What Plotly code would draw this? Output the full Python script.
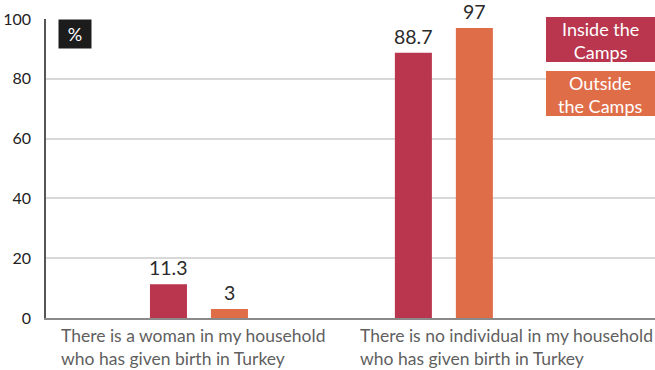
import plotly.graph_objects as go

categories = ["There is a woman in my household<br>who has given birth in Turkey",
              "There is no individual in my household<br>who has given birth in Turkey"]
cat_keys = ["woman", "none"]
series_names = ["Inside the<br>Camps", "Outside<br>the Camps"]
inside_vals = [11.3, 88.7]
outside_vals = [3, 97]
y_ticks = [0, 20, 40, 60, 80, 100]

colors = ["#B9364E", "#DF6D48"]
FONT = "Lato"

fig = go.Figure()
all_vals = [inside_vals, outside_vals]
for i, vals in enumerate(all_vals):
    fig.add_trace(go.Bar(x=cat_keys, y=vals, marker=dict(color=colors[i], line=dict(width=0)),
                         name=series_names[i], showlegend=False, cliponaxis=False))

annotations = []
shapes = []
shifts = [-30.5, 30.5]
for i, vals in enumerate(all_vals):
    for k, v in zip(cat_keys, vals):
        annotations.append(dict(x=k, y=v, xref="x", yref="y", text=f"{v:g}", showarrow=False,
                                xshift=shifts[i], yanchor="bottom", yshift=4, borderpad=0,
                                font=dict(family=FONT, size=19.5, color="#2b2b2b")))

# category labels (left aligned)
cat_x = [0.0220, 0.5125]
for cx, lab in zip(cat_x, categories):
    annotations.append(dict(x=cx, y=0, xref="paper", yref="paper", text=lab, showarrow=False,
                            xanchor="left", yanchor="top", align="left", yshift=-5,
                            font=dict(family=FONT, size=17.5, color="#5f5f5f")))

# % box
annotations.append(dict(x=0.0197, y=1, xref="paper", yref="paper", text="%", showarrow=False,
                        xanchor="left", yanchor="top", width=32, height=28, borderpad=0,
                        bgcolor="#1c1c1c", font=dict(family=FONT, size=18, color="white")))

# legend boxes (shape + centred two-line label)
box_y = [(0.856, 1.0067), (0.6756, 0.826)]
for i in range(len(series_names)):
    y0, y1 = box_y[i]
    shapes.append(dict(type="rect", xref="paper", yref="paper", x0=0.821, x1=1.0,
                       y0=y0, y1=y1, fillcolor=colors[i], line=dict(width=0)))
    annotations.append(dict(x=0.9105, y=(y0 + y1) / 2 - 0.004, xref="paper", yref="paper",
                            text=series_names[i], showarrow=False, borderpad=0,
                            xanchor="center", yanchor="middle", align="center",
                            font=dict(family=FONT, size=18, color="white")))

fig.update_layout(
    width=655, height=370,
    margin=dict(l=46, r=0, t=19, b=52),
    paper_bgcolor="white", plot_bgcolor="white",
    barmode="group", bargap=0.502, bargroupgap=0.393,
    annotations=annotations, shapes=shapes,
    xaxis=dict(type="category", range=[-0.6245, 1.862], showticklabels=False, ticks="",
               showgrid=False, showline=True, linecolor="#8a8a8a", linewidth=2, zeroline=False),
    yaxis=dict(range=[0, 100], tickvals=y_ticks, showgrid=True, gridcolor="#d8d8d8", gridwidth=1.5,
               showline=True, linecolor="#555555", linewidth=1.5, zeroline=False, ticks="",
               ticklabelstandoff=10,
               tickfont=dict(family=FONT, size=16, color="#222222")),
)

fig.write_html("out.html", config={"displayModeBar": False},
               post_script="document.body.style.margin='0';")
